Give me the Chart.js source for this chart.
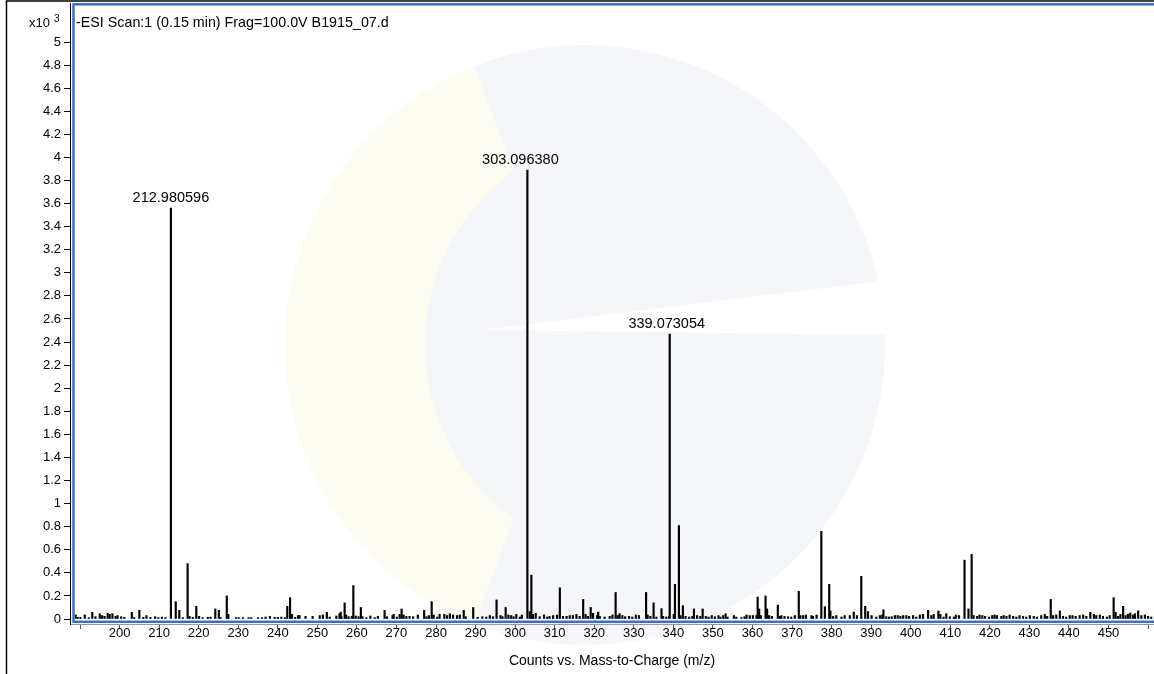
<!DOCTYPE html>
<html>
<head>
<meta charset="utf-8">
<script src="https://cdn.jsdelivr.net/npm/chart.js@4.4.1/dist/chart.umd.min.js"></script>
<style>
  html, body { margin: 0; padding: 0; background: #fff; }
  #wrap { width: 1154px; height: 674px; position: relative; }
</style>
</head>
<body>
<div id="wrap"><canvas id="chart"></canvas></div>
<script>
// intensities are in x10^3 counts
const peakMz = [212.980596, 214.2, 215.1, 217.2, 219.4, 224.2, 225.1, 227.1, 242.4, 243.1,
  255.9, 256.9, 259.1, 261.0, 267.0, 271.3, 277.0, 278.9, 287.0, 289.4, 295.3, 297.6,
  303.096380, 303.7, 304.1, 311.3, 317.2, 319.1, 321.0, 325.4, 333.1, 335.0, 337.0,
  339.073054, 340.4, 341.4, 342.4, 345.2, 347.4, 361.3, 361.7, 363.3, 363.7, 366.4, 371.7,
  377.4, 378.3, 379.4, 379.7, 385.6, 387.5, 388.5, 389.2, 393.1, 404.4, 407.0, 413.6, 414.6,
  415.4, 435.4, 437.7, 445.4, 451.3, 451.8, 453.7, 457.5, 205.0];
const peakCounts = [3.56, 0.15, 0.075, 0.48, 0.11, 0.087, 0.075, 0.2, 0.11, 0.185,
  0.06, 0.14, 0.29, 0.1, 0.075, 0.087, 0.075, 0.15, 0.075, 0.1, 0.165, 0.1,
  3.89, 0.064, 0.38, 0.27, 0.17, 0.1, 0.06, 0.23, 0.23, 0.14, 0.09,
  2.47, 0.30, 0.81, 0.115, 0.087, 0.087, 0.19, 0.087, 0.2, 0.087, 0.12, 0.24,
  0.76, 0.107, 0.30, 0.07, 0.06, 0.37, 0.11, 0.064, 0.08, 0.075, 0.07, 0.51, 0.087,
  0.56, 0.17, 0.07, 0.058, 0.185, 0.058, 0.11, 0.07, 0.075];

const noiseMz = [188.9, 189.4, 190.1, 191.2, 192.2, 193.1, 193.9, 195.0, 195.6, 196.2, 197.0, 197.5,
  198.2, 199.0, 199.5, 200.4, 201.2, 203.1, 203.7, 206.0, 206.8, 207.8, 209.0, 209.8, 210.7, 211.6,
  216.0, 217.7, 218.5, 220.1, 221.0, 222.3, 223.0, 225.5, 227.5, 229.4, 230.1, 231.2, 232.6, 233.3,
  235.0, 236.0, 236.9, 238.0, 239.2, 240.0, 240.9, 241.8, 243.6, 244.4, 245.1, 245.5, 247.0, 248.8,
  250.6, 251.4, 252.4, 253.1, 254.8, 255.6, 256.1,
  257.3, 257.9, 258.7, 259.7, 260.4, 261.4, 262.4, 263.4, 264.5, 265.3, 267.6, 269.0, 269.3, 270.1,
  270.8, 271.8, 272.5, 273.3, 274.2, 275.4, 277.6, 278.2, 279.4, 280.3, 280.9, 282.1, 282.8, 283.5,
  284.3, 285.3, 286.0, 287.5, 290.5, 291.7, 292.7, 293.6, 294.4, 296.3, 296.8, 298.3, 299.0, 299.6,
  300.3, 301.2, 301.7, 304.5, 305.2, 306.2, 307.3, 308.1, 308.7, 309.6, 310.6, 312.1, 313.0, 313.8,
  314.6, 315.5, 316.3, 317.8, 318.4, 319.7, 320.7, 321.4, 322.6, 323.9, 324.6,
  325.9, 326.4, 327.1, 327.8, 328.8, 329.6, 330.5, 331.3, 333.5, 334.2, 335.7, 337.4, 338.2, 338.9,
  340.1, 341.8, 343.1, 344.0, 344.8, 346.0, 346.8, 348.2, 348.9, 349.7, 350.5, 351.4, 351.9, 352.6,
  353.2, 353.7, 355.3, 355.9, 357.2, 358.0, 358.5, 359.3, 360.1, 361.0, 362.1, 364.2, 364.9, 366.9,
  367.3, 368.1, 369.0, 369.8, 370.7, 372.1, 372.8, 373.5, 374.9, 375.3, 376.2, 380.4, 381.2, 382.5,
  383.3, 384.6, 386.4, 390.1, 391.3, 392.2, 392.8,
  393.8, 394.5, 395.2, 396.0, 396.7, 397.4, 398.1, 398.9, 399.6, 400.6, 401.4, 402.3, 403.1, 405.2,
  405.8, 407.5, 408.3, 409.0, 409.9, 410.9, 411.4, 412.2, 415.9, 416.8, 417.4, 418.1, 418.8, 419.8,
  420.6, 421.2, 421.8, 422.9, 423.5, 424.2, 425.0, 425.9, 426.7, 427.5, 428.4, 429.2, 430.1, 431.1,
  431.9, 433.0, 433.9, 434.5, 436.0, 436.8, 438.5, 439.3, 440.2, 440.9, 441.7, 442.7, 443.6, 444.4,
  446.3, 446.9, 447.8, 448.6, 449.6, 450.3, 452.4, 453.0, 454.3, 454.9, 455.5, 456.2, 456.7, 458.3,
  459.2, 460.0, 460.8];
const noiseCounts = [0.035, 0.015, 0.015, 0.035, 0.012, 0.058, 0.02, 0.046, 0.03, 0.023, 0.05, 0.04,
  0.046, 0.023, 0.03, 0.02, 0.015, 0.058, 0.012, 0.015, 0.03, 0.015, 0.02, 0.012, 0.017, 0.012,
  0.012, 0.023, 0.015, 0.023, 0.012, 0.015, 0.017, 0.015, 0.04, 0.012, 0.012, 0.012, 0.012, 0.012,
  0.012, 0.012, 0.017, 0.023, 0.015, 0.015, 0.017, 0.012, 0.04, 0.015, 0.03, 0.03, 0.023, 0.023,
  0.03, 0.035, 0.058, 0.017, 0.026, 0.046, 0.02,
  0.035, 0.02, 0.023, 0.026, 0.02, 0.02, 0.012, 0.026, 0.012, 0.023, 0.02, 0.03, 0.04, 0.017,
  0.04, 0.035, 0.023, 0.023, 0.02, 0.035, 0.02, 0.03, 0.035, 0.017, 0.04, 0.04, 0.03, 0.046,
  0.035, 0.03, 0.035, 0.02, 0.015, 0.02, 0.017, 0.03, 0.02, 0.03, 0.02, 0.035, 0.03, 0.02,
  0.04, 0.017, 0.035, 0.04, 0.05, 0.02, 0.035, 0.017, 0.023, 0.03, 0.035, 0.023, 0.023, 0.03,
  0.03, 0.04, 0.023, 0.04, 0.023, 0.05, 0.03, 0.023, 0.017, 0.023, 0.035,
  0.03, 0.046, 0.03, 0.02, 0.023, 0.017, 0.035, 0.03, 0.035, 0.023, 0.017, 0.023, 0.017, 0.023,
  0.04, 0.03, 0.023, 0.017, 0.023, 0.03, 0.023, 0.023, 0.017, 0.03, 0.02, 0.03, 0.017, 0.03,
  0.046, 0.017, 0.03, 0.017, 0.012, 0.02, 0.035, 0.03, 0.03, 0.03, 0.03, 0.03, 0.023, 0.023,
  0.03, 0.023, 0.02, 0.017, 0.03, 0.03, 0.03, 0.035, 0.03, 0.023, 0.035, 0.023, 0.03, 0.017,
  0.03, 0.03, 0.03, 0.03, 0.017, 0.03, 0.035,
  0.02, 0.017, 0.02, 0.03, 0.03, 0.023, 0.03, 0.03, 0.023, 0.03, 0.017, 0.035, 0.04, 0.03,
  0.04, 0.04, 0.017, 0.046, 0.02, 0.017, 0.035, 0.03, 0.03, 0.023, 0.035, 0.03, 0.023, 0.017,
  0.03, 0.035, 0.03, 0.023, 0.03, 0.023, 0.035, 0.023, 0.017, 0.03, 0.023, 0.017, 0.03, 0.023,
  0.017, 0.03, 0.04, 0.023, 0.03, 0.035, 0.023, 0.017, 0.03, 0.03, 0.023, 0.03, 0.035, 0.023,
  0.04, 0.03, 0.035, 0.023, 0.017, 0.03, 0.023, 0.04, 0.03, 0.04, 0.052, 0.035, 0.046, 0.03,
  0.035, 0.023, 0.017];

// annotated peaks
const labelMz = [212.980596, 303.096380, 339.073054];
const labelCounts = [3.56, 3.89, 2.47];
const labelText = ['212.980596', '303.096380', '339.073054'];
const labelDx = [0, -7, -3]; // the software nudges a few labels sideways

const titleText = '-ESI Scan:1 (0.15 min) Frag=100.0V B1915_07.d';
const xTitle = 'Counts vs. Mass-to-Charge (m/z)';

const FONT = "'Liberation Sans', Arial, sans-serif";
Chart.defaults.font.family = FONT;
Chart.defaults.color = '#000';

const points = [];
peakMz.forEach((m, i) => points.push({ x: m, y: peakCounts[i] }));
noiseMz.forEach((m, i) => points.push({ x: m, y: noiseCounts[i] }));
points.sort((a, b) => a.x - b.x);

// faint logo behind the plot + window lines
const backdrop = {
  id: 'backdrop',
  beforeDraw(chart) {
    const ctx = chart.ctx;
    ctx.save();
    ctx.fillStyle = '#f5f6f9';
    ctx.beginPath();
    ctx.arc(585, 345, 300, 0, Math.PI * 2);
    ctx.fill();
    // pale yellow crescent on the left
    ctx.fillStyle = '#fdfcf1';
    ctx.beginPath();
    ctx.arc(585, 345, 300, Math.PI * 0.62, Math.PI * 1.38);
    ctx.arc(640, 345, 215, Math.PI * 1.3, Math.PI * 0.7, true);
    ctx.closePath();
    ctx.fill();
    // white wedge cut from the right
    ctx.fillStyle = '#fff';
    ctx.beginPath();
    ctx.moveTo(480, 330);
    ctx.lineTo(890, 280);
    ctx.lineTo(890, 335);
    ctx.closePath();
    ctx.fill();
    ctx.restore();
  },
  afterDraw(chart) {
    const ctx = chart.ctx;
    const a = chart.chartArea;
    ctx.save();
    // blue plot frame
    ctx.strokeStyle = '#3b6fc6';
    ctx.lineWidth = 2.5;
    ctx.strokeRect(a.left + 3.5, a.top + 1.3, a.right - a.left + 2, 617.5);
    // outer panel lines
    ctx.strokeStyle = '#000';
    ctx.lineWidth = 1.5;
    ctx.beginPath();
    ctx.moveTo(6.5, 674);
    ctx.lineTo(6.5, 1);
    ctx.lineTo(1154, 1);
    ctx.stroke();

    // title inside the plot
    ctx.fillStyle = '#000';
    ctx.font = '14.3px ' + FONT;
    ctx.textAlign = 'left';
    ctx.textBaseline = 'alphabetic';
    ctx.fillText(titleText, 76, 27);
    // y multiplier
    ctx.font = '13px ' + FONT;
    ctx.fillText('x10', 29, 27);
    ctx.font = '10px ' + FONT;
    ctx.fillText('3', 54, 22);

    // peak annotations
    const xs = chart.scales.x, ys = chart.scales.y;
    ctx.font = '14.5px ' + FONT;
    ctx.textAlign = 'center';
    labelMz.forEach((m, i) => {
      ctx.fillText(labelText[i], xs.getPixelForValue(m) + labelDx[i], ys.getPixelForValue(labelCounts[i]) - 6);
    });
    ctx.restore();
  }
};

new Chart(document.getElementById('chart'), {
  type: 'bar',
  data: {
    datasets: [{
      data: points,
      backgroundColor: '#000',
      borderWidth: 0,
      barThickness: 1.5
    }]
  },
  options: {
    responsive: true,
    maintainAspectRatio: false,
    animation: false,
    layout: { padding: { top: 3, left: 0, right: 0, bottom: 0 } },
    plugins: { legend: { display: false }, tooltip: { enabled: false } },
    scales: {
      x: {
        type: 'linear',
        offset: false,
        min: 187.47,
        max: 461.5,
        ticks: {
          stepSize: 10,
          includeBounds: false,
          autoSkip: false,
          maxRotation: 0,
          padding: -3,
          font: { size: 13 },
          callback: v => (v >= 200 && v <= 450) ? String(v) : ''
        },
        grid: { offset: false, drawOnChartArea: false, tickLength: 5, color: '#555' },
        border: { color: '#999', width: 1 },
        title: { display: true, text: xTitle, font: { size: 14 }, padding: { top: 0, bottom: 4 } },
        afterFit: s => { s.height = 50; s.paddingLeft = 0; s.paddingRight = 0; }
      },
      y: {
        min: -0.0433,
        max: 5.338,
        ticks: {
          stepSize: 0.2,
          includeBounds: false,
          autoSkip: false,
          padding: 3,
          font: { size: 13 },
          callback: v => String(Math.round(v * 10) / 10)
        },
        afterBuildTicks: s => { s.ticks = s.ticks.filter(t => t.value < 5.01); },
        grid: { drawOnChartArea: false, tickLength: 6, color: '#000' },
        border: { color: '#000', width: 1 },
        afterFit: s => { s.width = 70; s.paddingTop = 0; s.paddingBottom = 0; }
      }
    }
  },
  plugins: [backdrop]
});
</script>
</body>
</html>
